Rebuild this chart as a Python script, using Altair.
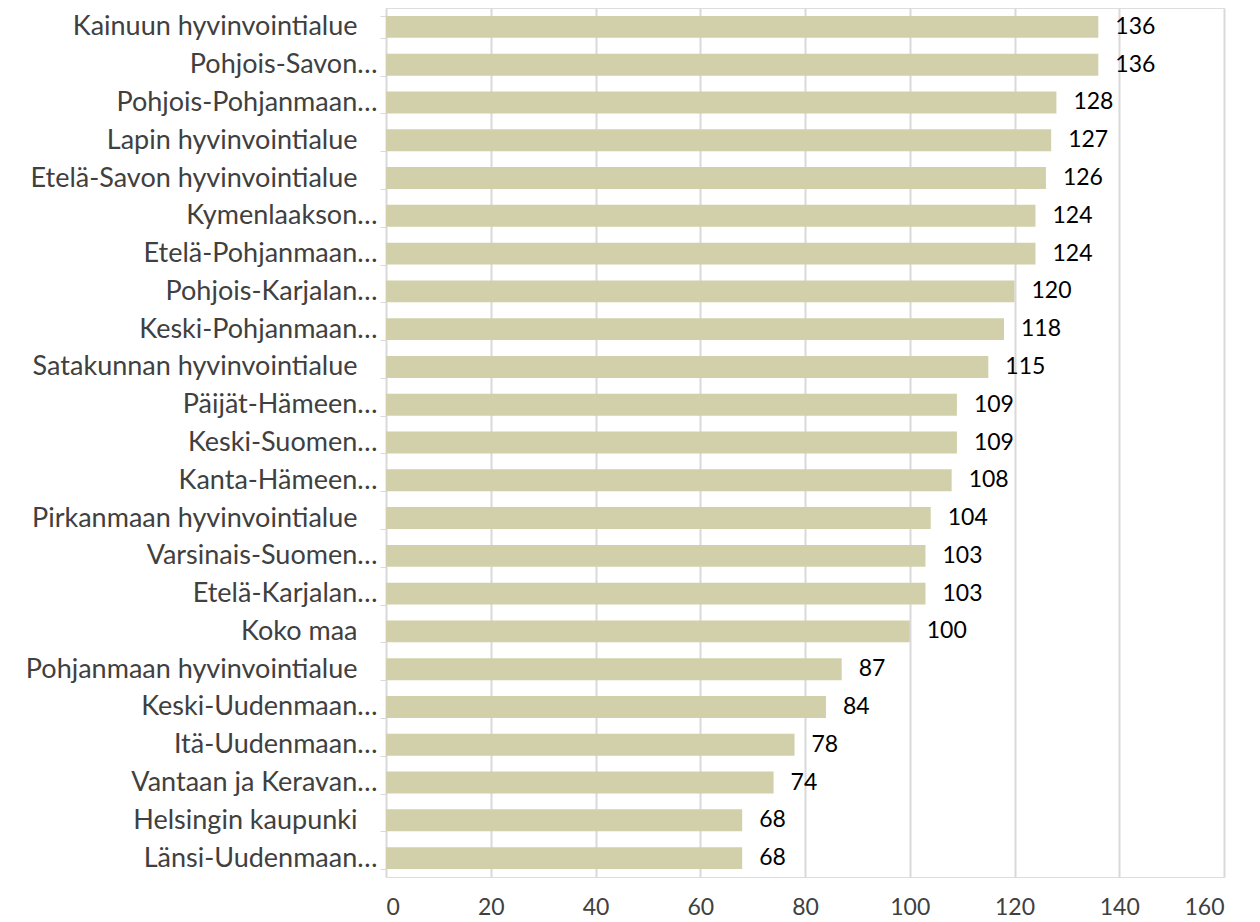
import altair as alt
import pandas as pd

SP = "\u2800"
regions = [
    "Kainuun hyvinvointialue" + SP,
    "Pohjois-Savon…",
    "Pohjois-Pohjanmaan…",
    "Lapin hyvinvointialue" + SP,
    "Etelä-Savon hyvinvointialue" + SP,
    "Kymenlaakson…",
    "Etelä-Pohjanmaan…",
    "Pohjois-Karjalan…",
    "Keski-Pohjanmaan…",
    "Satakunnan hyvinvointialue" + SP,
    "Päijät-Hämeen…",
    "Keski-Suomen…",
    "Kanta-Hämeen…",
    "Pirkanmaan hyvinvointialue" + SP,
    "Varsinais-Suomen…",
    "Etelä-Karjalan…",
    "Koko maa" + SP,
    "Pohjanmaan hyvinvointialue" + SP,
    "Keski-Uudenmaan…",
    "Itä-Uudenmaan…",
    "Vantaan ja Keravan…",
    "Helsingin kaupunki" + SP,
    "Länsi-Uudenmaan…",
]
values = [136, 136, 128, 127, 126, 124, 124, 120, 118, 115, 109, 109, 108,
          104, 103, 103, 100, 87, 84, 78, 74, 68, 68]
x_ticks = [0, 20, 40, 60, 80, 100, 120, 140, 160]

df = pd.DataFrame({"region": regions, "value": values})
FONT = "Lato"

y = alt.Y(
    "region:N",
    sort=regions,
    title=None,
    scale=alt.Scale(paddingInner=0.42, paddingOuter=0.21),
    axis=alt.Axis(
        labelFont=FONT, labelFontSize=27, labelColor="#404040",
        labelPadding=3, tickBand="extent", tickSize=6, tickColor="#d9d9d9",
        domainColor="#d9d9d9", domainWidth=1, labelLimit=400,
    ),
)
x = alt.X(
    "value:Q",
    title=None,
    scale=alt.Scale(domain=[0, 160], nice=False),
    axis=alt.Axis(
        values=x_ticks, labelFont=FONT, labelFontSize=23, labelColor="#404040",
        labelPadding=19, ticks=False, domain=False, grid=True,
        gridColor="#d9d9d9", gridWidth=2,
    ),
)

bars = alt.Chart(df).mark_bar(color="#D1D0AA").encode(x=x, y=y)
text = alt.Chart(df).mark_text(
    align="left", baseline="middle", dx=17, font=FONT, fontSize=23, color="#000000"
).encode(x="value:Q", y=alt.Y("region:N", sort=regions), text="value:Q")

chart = (
    alt.layer(bars, text)
    .properties(width=838, height=869, autosize=alt.AutoSizeParams(type="none"),
                padding={"left": 378, "top": 0, "right": 28, "bottom": 45})
    .configure_view(stroke=None)
    .configure(background="white")
)
chart.save("out.html", embed_options={"renderer": "svg", "actions": False})
